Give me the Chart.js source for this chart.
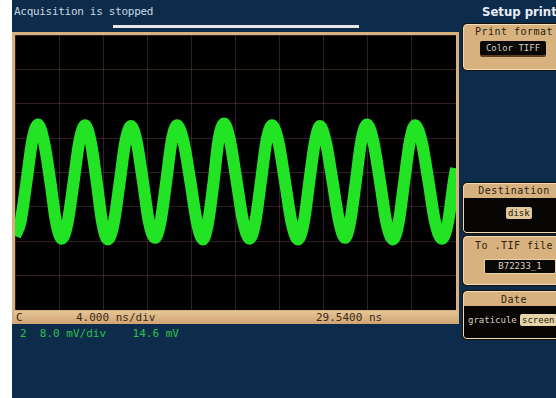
<!DOCTYPE html>
<html>
<head>
<meta charset="utf-8">
<script src="https://cdn.jsdelivr.net/npm/chart.js@4/dist/chart.umd.min.js"></script>
<style>
  body { margin:0; background:#fff; width:556px; height:398px; overflow:hidden; position:relative; font-family:"DejaVu Sans Mono", monospace; }
  #screen { position:absolute; left:12px; top:0; width:544px; height:398px; background:#0d2c4c; overflow:hidden; }
  .abs { position:absolute; white-space:pre; }
  #status { left:2px; top:5px; font-size:11px; color:#c9d6e0; letter-spacing:-0.3px; }
  #bar { left:101px; top:25px; width:246px; height:3px; background:#e6e6e6; }
  #frame { left:0px; top:32px; width:447px; height:292px; background:#d8b27e; }
  #plot { left:3px; top:35px; width:441px; height:275px; background:#000; }
  #strip { left:2px; top:311px; width:444px; height:13px; background:linear-gradient(#e6c596,#cfa472); font-size:11px; color:#3a2a18; }
  #ch2 { top:327px; font-size:11px; color:#2fc04a; }
  #title { left:470px; top:4px; font-family:"Liberation Sans Narrow","DejaVu Sans Condensed",sans-serif; font-weight:bold; font-size:13px; color:#e8eef4; }
  .box { position:absolute; left:451px; width:100px; border:1px solid #f0dcb8; border-radius:4px; background:#d8b27e; box-shadow:0 0 0 1px #1a1208; overflow:hidden; }
  .hdr { position:absolute; left:0; width:100%; text-align:center; font-size:10px; color:#2a2010; letter-spacing:0.5px; }
  .blk { position:absolute; left:0; width:100%; background:#080604; }
  .btn { position:absolute; font-size:9px; padding:0 2px; border-radius:2px; }
</style>
</head>
<body>
<div id="screen">
  <div class="abs" id="status">Acquisition is stopped</div>
  <div class="abs" id="bar"></div>
  <div class="abs" id="frame"></div>
  <div class="abs" id="plot"><canvas id="chart"></canvas></div>
  <div class="abs" id="strip"><span class="abs" style="left:2px;top:0">C</span><span class="abs" style="left:62px;top:0">4.000 ns/div</span><span class="abs" style="left:302px;top:0">29.5400 ns</span></div>
  <div class="abs" id="ch2" style="left:8px">2  8.0 mV/div    14.6 mV</div>

  <div class="abs" id="title">Setup print</div>

  <div class="box" style="top:24px;height:44px;">
    <div class="hdr" style="top:1px;">Print format</div>
    <div class="btn" style="left:16px;top:16px;width:62px;height:14px;background:#0a0806;color:#d8d0c0;line-height:14px;text-align:center;box-shadow:0 2px 0 #5a4020;">Color TIFF</div>
  </div>

  <div class="box" style="top:183px;height:48px;">
    <div class="hdr" style="top:1px;">Destination</div>
    <div class="blk" style="top:14px;height:34px;"></div>
    <div class="btn" style="left:42px;top:23px;background:#e0c89c;color:#201808;line-height:12px;">disk</div>
  </div>

  <div class="box" style="top:236px;height:47px;">
    <div class="hdr" style="top:3px;">To .TIF file</div>
    <div class="btn" style="left:20px;top:22px;width:66px;height:13px;background:#0a0806;color:#d8d0c0;line-height:13px;text-align:center;border:1px solid #e8d0a8;">B72233_1</div>
  </div>

  <div class="box" style="top:291px;height:46px;">
    <div class="hdr" style="top:2px;">Date</div>
    <div class="blk" style="top:14px;height:32px;"></div>
    <div class="btn" style="left:2px;top:22px;color:#d8d0c0;line-height:12px;">graticule</div>
    <div class="btn" style="left:56px;top:22px;background:#e8d4aa;color:#201808;line-height:12px;">screen</div>
  </div>
</div>

<script>
// horizontal: 4.000 ns/div, 10 divisions; vertical: 8.0 mV/div, 8 divisions
var timeNs = [0, 0.5, 1.05, 1.55, 2.09, 2.62, 3.2, 3.72,
              4.26, 4.78, 5.3, 5.82, 6.35, 6.88, 7.4, 7.92,
              8.44, 8.97, 9.5, 10.0, 10.52, 11.05, 11.6, 12.15,
              12.7, 13.2, 13.7, 14.2, 14.69, 15.3, 15.9, 16.5,
              17.05, 17.5, 18.0, 18.45, 18.96, 19.5, 20.1, 20.7,
              21.3, 21.8, 22.3, 22.8, 23.31, 23.9, 24.5, 25.1,
              25.67, 26.2, 26.7, 27.2, 27.66, 28.2, 28.8, 29.4,
              29.93, 30.4, 30.9, 31.4, 31.93, 32.5, 33.1, 33.7,
              34.29, 34.8, 35.3, 35.8, 36.28, 36.9, 37.5, 38.1,
              38.73, 39.28, 39.8, 40];
var ch2mV  = [-14.8, -11.5, -2, 7.2, 11.2, 7.2, -2, -11.5,
              -15.4, -11.5, -2.5, 7.0, 11.0, 7.0, -2, -11.8,
              -15.6, -11.6, -2.2, 7.0, 10.8, 7.0, -2, -11.6,
              -15.2, -11.4, -2.4, 7.2, 11.0, 7.0, -2, -11.6,
              -15.6, -11.8, -2.5, 7.4, 11.4, 7.4, -2, -11.5,
              -15.4, -11.4, -2.2, 7.2, 11.0, 7.0, -2.3, -11.8,
              -15.6, -11.5, -2, 7.0, 10.8, 7.0, -2, -11.4,
              -15.2, -11.5, -2.4, 7.2, 11.2, 7.2, -2, -11.8,
              -15.6, -11.6, -2.2, 7.0, 11.0, 7.0, -2, -11.5,
              -15.4, -11.5, -2, 1.0];

var xmin = 0, xmax = 40, xstep = 4;
var ymin = -32, ymax = 32, ystep = 8;

var points = timeNs.map(function (t, i) { return { x: t, y: ch2mV[i] }; });

var gridColor = "rgba(110, 70, 85, 0.45)";

var ctx = document.getElementById("chart").getContext("2d");
var chart = new Chart(ctx, {
    type: "line",
    data: {
        datasets: [{
            label: "CH2",
            data: points,
            borderColor: "#22e425",
            borderWidth: 12,
            pointRadius: 0,
            cubicInterpolationMode: "monotone",
            fill: false
        }]
    },
    options: {
        responsive: true,
        maintainAspectRatio: false,
        animation: false,
        layout: { padding: 0 },
        plugins: { legend: { display: false }, tooltip: { enabled: false } },
        scales: {
            x: {
                type: "linear", min: xmin, max: xmax,
                ticks: { display: false, stepSize: xstep },
                grid: { color: gridColor, lineWidth: 1, drawTicks: false },
                border: { display: false }
            },
            y: {
                min: ymin, max: ymax,
                ticks: { display: false, stepSize: ystep },
                grid: { color: gridColor, lineWidth: 1, drawTicks: false },
                border: { display: false }
            }
        }
    }
});
</script>
</body>
</html>
